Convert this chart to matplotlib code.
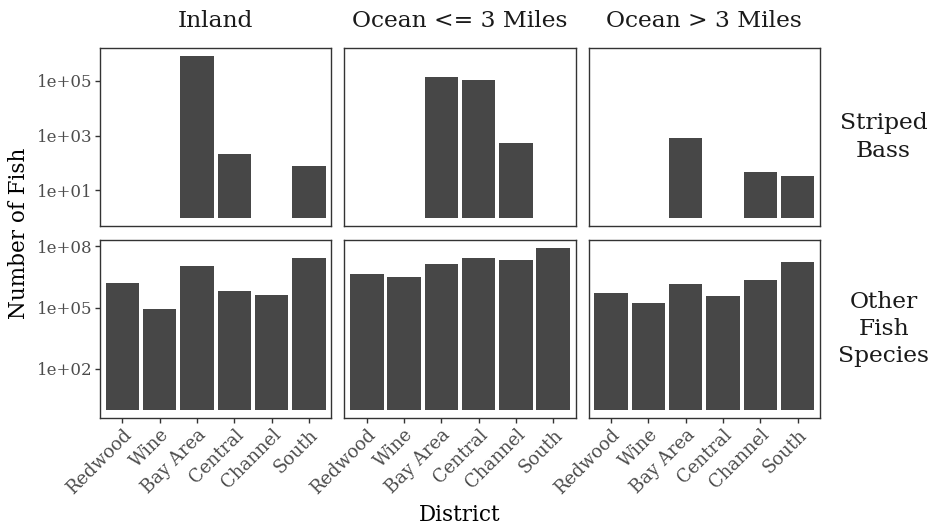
import numpy as np
import matplotlib
matplotlib.use("Agg")
import matplotlib.pyplot as plt

plt.rcParams['font.family'] = ['DejaVu Serif']

# ---------------- DATA ----------------
districts = ["Redwood", "Wine", "Bay Area", "Central", "Channel", "South"]
areas = ["Inland", "Ocean <= 3 Miles", "Ocean > 3 Miles"]
species = ["Striped\nBass", "Other\nFish\nSpecies"]

nan = np.nan
bass_inland = [nan, nan, 780000, 220, nan, 80]
bass_ocean_near = [nan, nan, 133000, 105000, 550, nan]
bass_ocean_far = [nan, nan, 800, nan, 45, 34]

other_inland = [1.5e6, 83000, 1.1e7, 670000, 400000, 2.5e7]
other_ocean_near = [4.4e6, 3.0e6, 1.4e7, 2.6e7, 2.2e7, 8.0e7]
other_ocean_far = [500000, 175000, 1.4e6, 355000, 2.1e6, 1.7e7]

values = [[bass_inland, bass_ocean_near, bass_ocean_far],
          [other_inland, other_ocean_near, other_ocean_far]]

row_ticks = [[1e1, 1e3, 1e5], [1e2, 1e5, 1e8]]
row_tick_labels = [["1e+01", "1e+03", "1e+05"], ["1e+02", "1e+05", "1e+08"]]

# ---------------- PLOT ----------------
bar_color = "#474747"
border_color = "#333333"
tick_color = "#4D4D4D"

fig, axes = plt.subplots(2, 3, figsize=(9.37, 5.30), dpi=100, sharey='row')
fig.subplots_adjust(left=100/937, right=820/937, top=1-48/530, bottom=1-418/530,
                    wspace=0.056, hspace=0.079)

x = np.arange(len(districts))
for r in range(2):
    row_max = np.log10(np.nanmax(np.array(values[r])))
    for c in range(3):
        ax = axes[r, c]
        v = np.array(values[r][c], dtype=float)
        ax.bar(x, v - 1, bottom=1, width=0.9, color=bar_color, linewidth=0)
        ax.set_yscale('log')
        ax.set_ylim(10 ** (-0.05 * row_max), 10 ** (1.05 * row_max))
        ax.set_xlim(-0.6, len(districts) - 0.4)
        ax.set_yticks(row_ticks[r])
        ax.set_yticklabels(row_tick_labels[r])
        ax.yaxis.set_minor_locator(matplotlib.ticker.NullLocator())
        ax.set_xticks(x)
        if r == 1:
            ax.set_xticklabels(districts, rotation=45, ha='right',
                               rotation_mode='anchor', fontsize=13)
        else:
            ax.tick_params(axis='x', bottom=False, labelbottom=False)
        if c > 0:
            ax.tick_params(axis='y', left=False, labelleft=False)
        ax.tick_params(axis='both', length=3.5, width=1.0, color=border_color,
                       labelcolor=tick_color, pad=2)
        ax.tick_params(axis='y', labelsize=12)
        for s in ax.spines.values():
            s.set_color(border_color)
            s.set_linewidth(1.0)
        if r == 0:
            ax.set_title(areas[c], fontsize=16.8, color="#1A1A1A", pad=15)
    axes[r, 2].text(1.275, 0.5, species[r], transform=axes[r, 2].transAxes,
                    ha='center', va='center', fontsize=16.8, color="#1A1A1A",
                    linespacing=1.3)

fig.text(0.02, (1 - 48/530 + 1 - 418/530) / 2, "Number of Fish", rotation=90,
         ha='center', va='center', fontsize=15.5)
fig.text((100/937 + 820/937) / 2, 0.028, "District", ha='center', va='center',
         fontsize=15.5)

plt.savefig("out.png", dpi=100)
